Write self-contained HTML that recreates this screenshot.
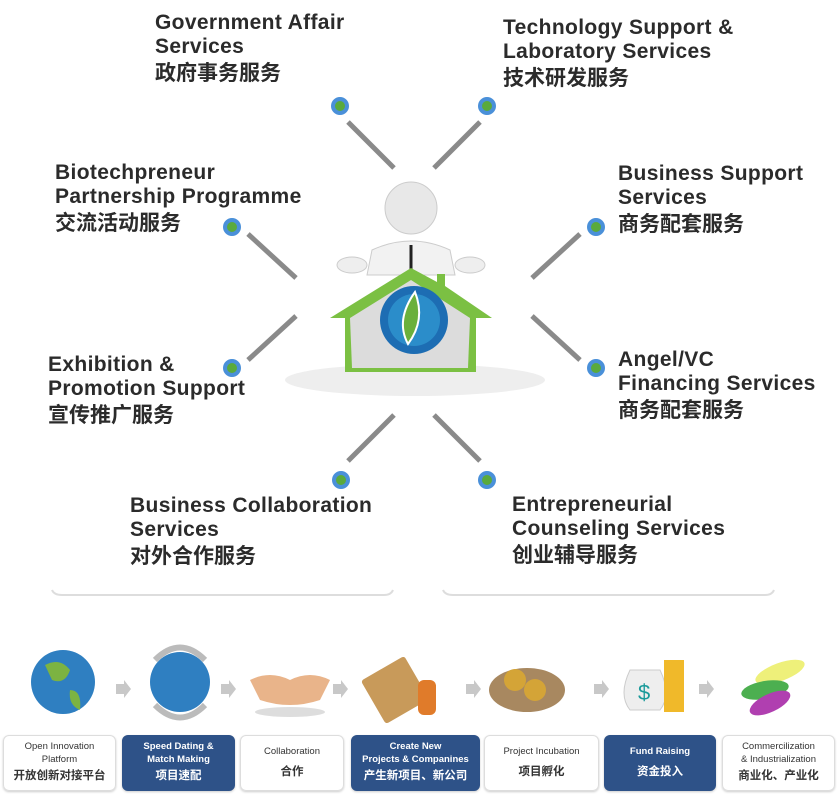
<!DOCTYPE html>
<html><head><meta charset="utf-8"><style>
body{margin:0;width:838px;height:797px;background:#fff;position:relative;overflow:hidden;font-family:"Liberation Sans","Noto Sans CJK SC",sans-serif}
.t{position:absolute;font-weight:bold;color:#2b2b2b;font-size:21px;line-height:24px;letter-spacing:0.35px;white-space:nowrap}
.t .c{font-size:21px;line-height:30px;letter-spacing:0}
.b{position:absolute;top:735px;height:56px;border:1px solid #ddd;border-radius:6px;box-sizing:border-box;display:flex;flex-direction:column;align-items:center;justify-content:center;text-align:center;font-size:9.5px;line-height:13px;color:#333;box-shadow:0 1px 2px #ccc}
.b .c{font-size:11.5px;line-height:20px;font-weight:bold}
.b.d{background:#2e5288;color:#fff;border-color:#2e5288;font-weight:bold}
</style></head><body>
<svg width="838" height="797" style="position:absolute;left:0;top:0">
<g stroke="#8a8a8a" stroke-width="5">
<line x1="348" y1="122" x2="394" y2="168"/><line x1="480" y1="122" x2="434" y2="168"/>
<line x1="248" y1="234" x2="296" y2="278"/><line x1="580" y1="234" x2="532" y2="278"/>
<line x1="248" y1="360" x2="296" y2="316"/><line x1="580" y1="360" x2="532" y2="316"/>
<line x1="394" y1="415" x2="348" y2="461"/><line x1="434" y1="415" x2="480" y2="461"/>
</g>
<g fill="#5aaa3c" stroke="#4a90d9" stroke-width="4">
<circle cx="340" cy="106" r="7"/><circle cx="487" cy="106" r="7"/>
<circle cx="232" cy="227" r="7"/><circle cx="596" cy="227" r="7"/>
<circle cx="232" cy="368" r="7"/><circle cx="596" cy="368" r="7"/>
<circle cx="341" cy="480" r="7"/><circle cx="487" cy="480" r="7"/>
</g>
<g fill="none" stroke="#ddd" stroke-width="2">
<path d="M52 590 Q54 595 62 595 L384 595 Q391 595 393 590"/>
<path d="M443 590 Q445 595 453 595 L765 595 Q772 595 774 590"/>
</g>
<ellipse cx="415" cy="380" rx="130" ry="16" fill="#eee"/>
<circle cx="411" cy="208" r="26" fill="#e8e8e8" stroke="#ccc"/>
<path d="M372 250 Q411 232 450 250 L455 275 L367 275 Z" fill="#f2f2f2" stroke="#ccc"/>
<ellipse cx="352" cy="265" rx="15" ry="8" fill="#eee" stroke="#ccc"/>
<ellipse cx="470" cy="265" rx="15" ry="8" fill="#eee" stroke="#ccc"/>
<line x1="411" y1="245" x2="411" y2="270" stroke="#222" stroke-width="3"/>
<polygon points="411,268 330,318 345,318 345,372 476,372 476,318 492,318 445,286 445,274 437,274 437,282" fill="#7bc043"/>
<polygon points="411,280 350,318 352,368 468,368 470,318" fill="#dcdcdc"/>
<circle cx="414" cy="320" r="34" fill="#1d6db3"/>
<circle cx="414" cy="320" r="26" fill="#35a3d8" opacity=".6"/>
<path d="M415 292 Q395 320 408 344 Q426 320 415 292Z" fill="#6ab03c" stroke="#fff" stroke-width="2"/>
<circle cx="63" cy="682" r="32" fill="#2f7fc1"/><path d="M45 665 q15 -8 25 5 q-5 15 -18 10z M70 690 q12 0 10 20 q-12 -5 -10 -20z" fill="#7cb342"/>
<circle cx="180" cy="682" r="30" fill="#2f7fc1"/><path d="M155 660 q25 -25 50 0 M205 705 q-25 25 -50 0" stroke="#bbb" stroke-width="6" fill="none"/>
<path d="M250 680 q20 -10 40 0 q20 -10 40 0 l-10 20 q-30 10 -60 0z" fill="#e9b48a"/><ellipse cx="290" cy="712" rx="35" ry="5" fill="#ddd"/>
<rect x="370" y="665" width="50" height="50" rx="3" fill="#c89a5a" transform="rotate(-30 395 690)"/><rect x="418" y="680" width="18" height="35" rx="6" fill="#e07b2a"/>
<ellipse cx="527" cy="690" rx="38" ry="22" fill="#a88860"/><circle cx="515" cy="680" r="11" fill="#d4a437"/><circle cx="535" cy="690" r="11" fill="#d4a437"/>
<path d="M630 670 q-12 25 0 40 h30 q12 -15 0 -40z" fill="#eee" stroke="#ccc"/><text x="638" y="700" font-size="22" fill="#1a9a9a" font-family="Liberation Sans">$</text><rect x="664" y="660" width="20" height="52" fill="#f0b92a"/>
<ellipse cx="780" cy="672" rx="26" ry="9" fill="#eef07a" transform="rotate(-20 780 672)"/><ellipse cx="765" cy="690" rx="24" ry="9" fill="#4caf50" transform="rotate(-10 765 690)"/><ellipse cx="770" cy="703" rx="22" ry="9" fill="#b03fb0" transform="rotate(-25 770 703)"/>
<g fill="#c8c8c8"><polygon points="116,684 124,684 124,680 131,689 124,698 124,694 116,694"/><polygon points="221,684 229,684 229,680 236,689 229,698 229,694 221,694"/><polygon points="333,684 341,684 341,680 348,689 341,698 341,694 333,694"/><polygon points="466,684 474,684 474,680 481,689 474,698 474,694 466,694"/><polygon points="594,684 602,684 602,680 609,689 602,698 602,694 594,694"/><polygon points="699,684 707,684 707,680 714,689 707,698 707,694 699,694"/></g>
</svg>
<div class="t" style="left:155px;top:11px">Government Affair<br>Services<div class="c">政府事务服务</div></div>
<div class="t" style="left:503px;top:16px">Technology Support &amp;<br>Laboratory Services<div class="c">技术研发服务</div></div>
<div class="t" style="left:55px;top:161px">Biotechpreneur<br>Partnership Programme<div class="c">交流活动服务</div></div>
<div class="t" style="left:618px;top:162px">Business Support<br>Services<div class="c">商务配套服务</div></div>
<div class="t" style="left:48px;top:353px">Exhibition &amp;<br>Promotion Support<div class="c">宣传推广服务</div></div>
<div class="t" style="left:618px;top:348px">Angel/VC<br>Financing Services<div class="c">商务配套服务</div></div>
<div class="t" style="left:130px;top:494px">Business Collaboration<br>Services<div class="c">对外合作服务</div></div>
<div class="t" style="left:512px;top:493px">Entrepreneurial<br>Counseling Services<div class="c">创业辅导服务</div></div>
<div class="b" style="left:3px;width:113px">Open Innovation<br>Platform<div class="c">开放创新对接平台</div></div>
<div class="b d" style="left:122px;width:113px">Speed Dating &amp;<br>Match Making<div class="c">项目速配</div></div>
<div class="b" style="left:240px;width:104px">Collaboration<div class="c" style="margin-top:4px">合作</div></div>
<div class="b d" style="left:351px;width:129px">Create New<br>Projects &amp; Companines<div class="c">产生新项目、新公司</div></div>
<div class="b" style="left:484px;width:115px">Project Incubation<div class="c" style="margin-top:4px">项目孵化</div></div>
<div class="b d" style="left:604px;width:112px">Fund Raising<div class="c" style="margin-top:4px">资金投入</div></div>
<div class="b" style="left:722px;width:113px">Commercilization<br>&amp; Industrialization<div class="c">商业化、产业化</div></div>
</body></html>
